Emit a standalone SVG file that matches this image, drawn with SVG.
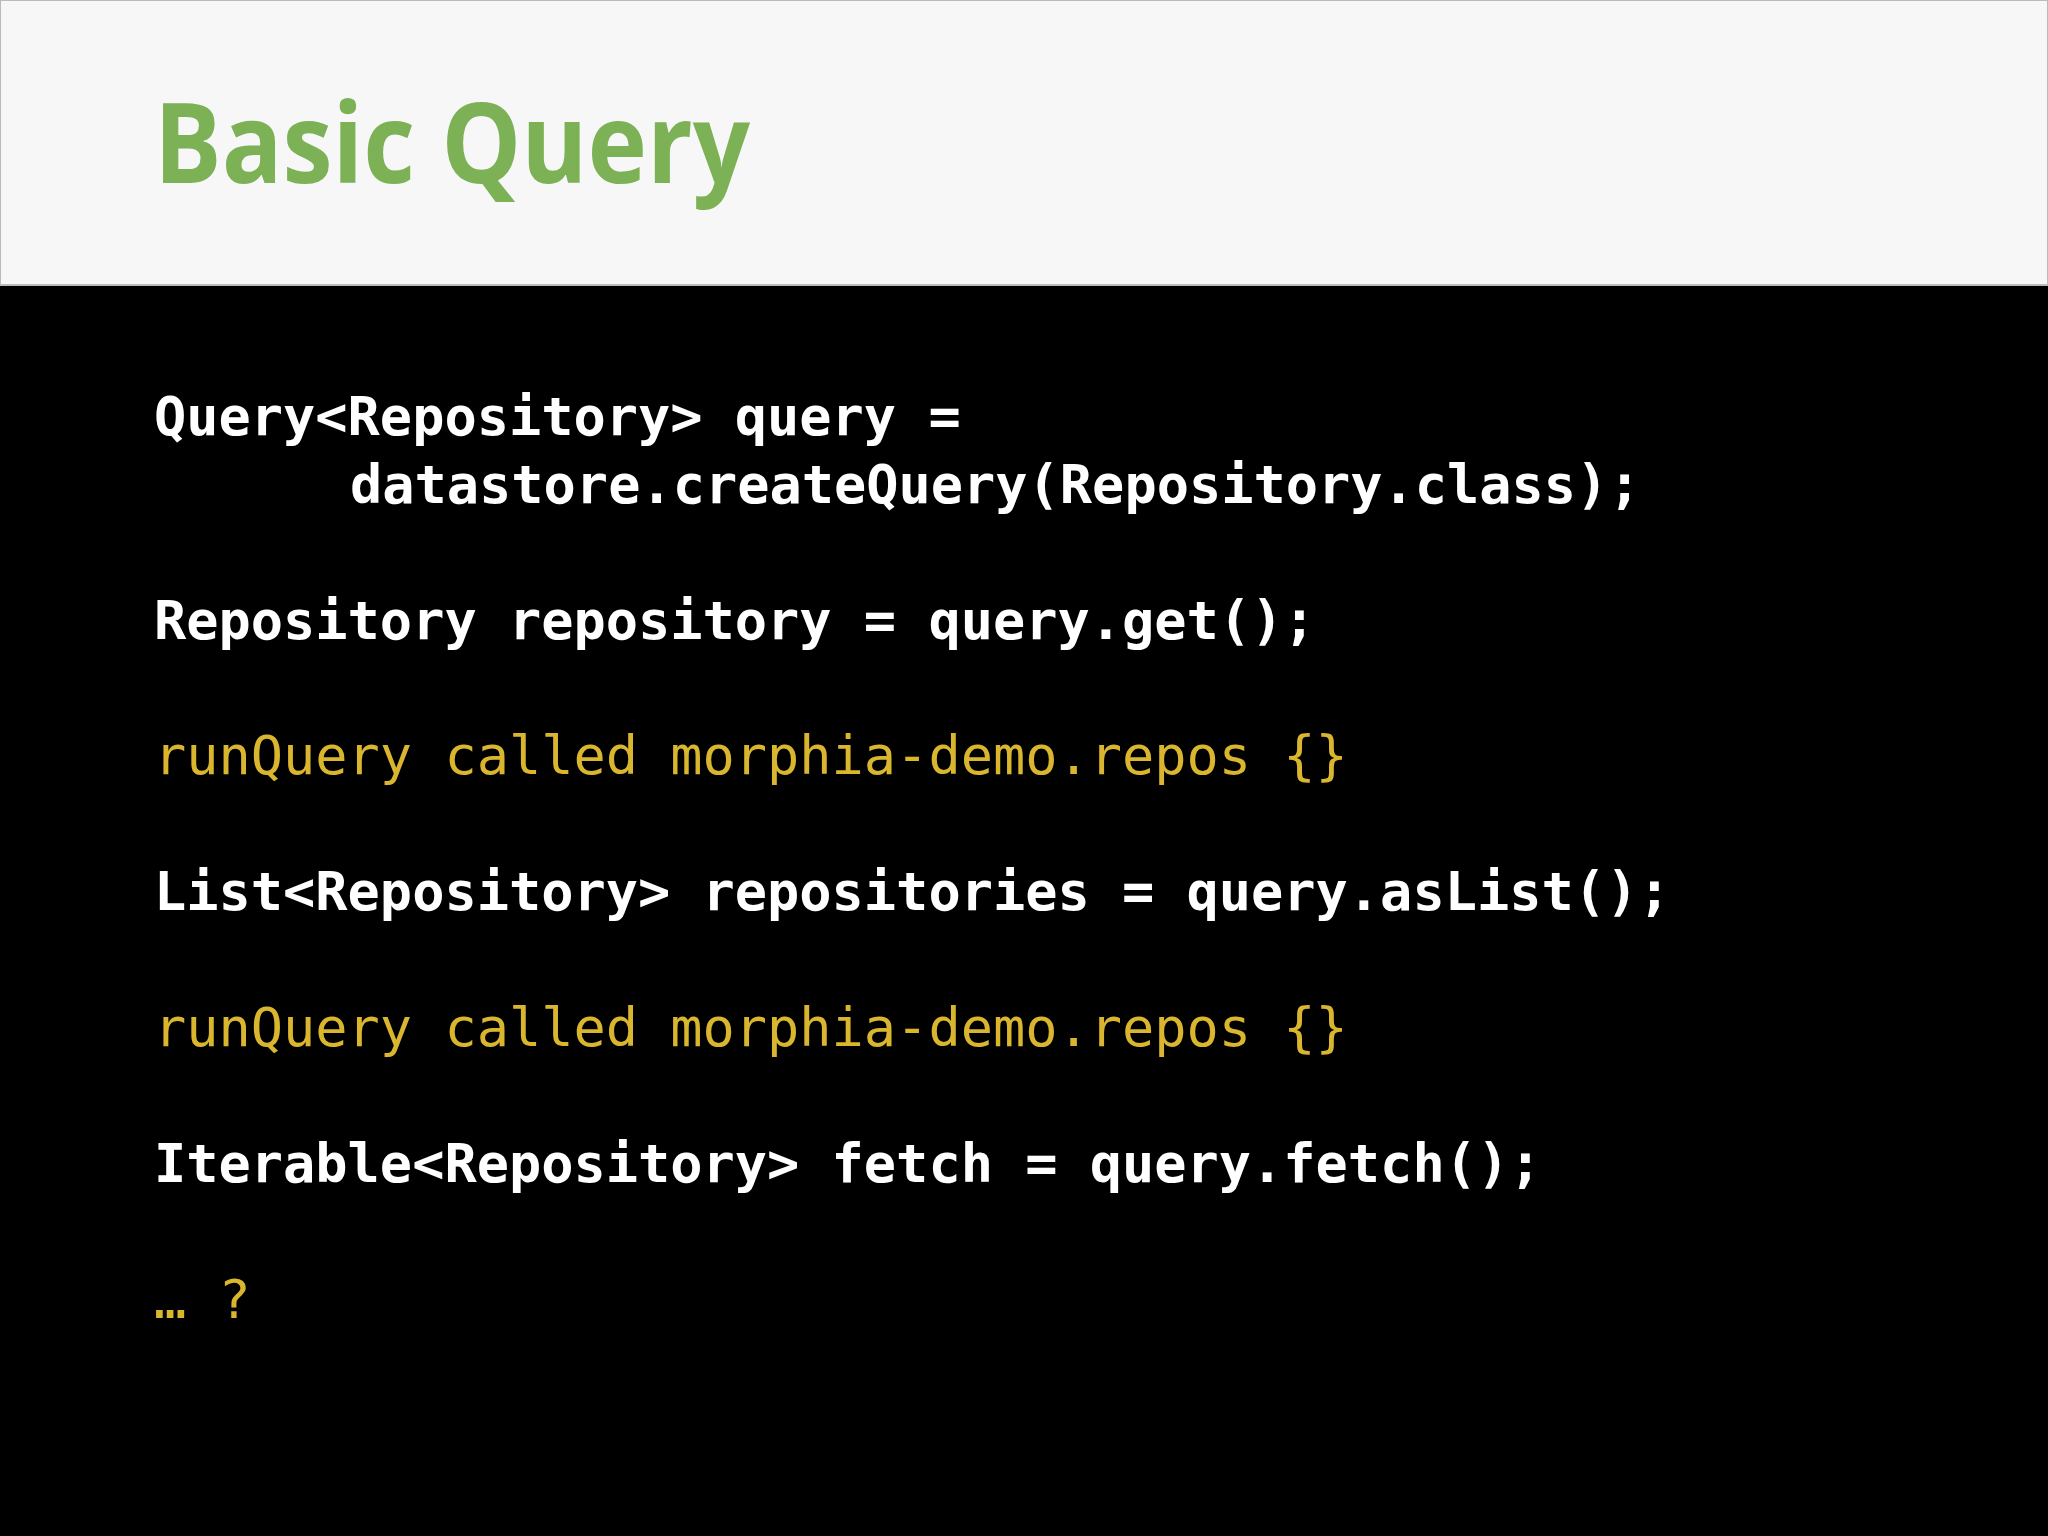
<svg xmlns="http://www.w3.org/2000/svg" width="2048" height="1536" viewBox="0 0 2048 1536">
<style>
.c{font-family:"DejaVu Sans Mono","Liberation Mono",monospace;font-size:53.6px;font-weight:bold;fill:#ffffff;white-space:pre}
.y{fill:#d9b62e;font-weight:normal}
</style>
<rect x="0" y="0" width="2048" height="1536" fill="#000"/>
<rect x="0" y="0" width="2048" height="285" fill="#f7f7f7" stroke="#bbb" stroke-width="2"/>
<text x="154" y="183" font-family="'Open Sans','Noto Sans',sans-serif" font-weight="bold" font-size="112" textLength="596" lengthAdjust="spacingAndGlyphs" fill="#7cb156">Basic Query</text>
<g id="code">
<text class="c" x="154" y="435">Query&lt;Repository&gt; query =</text>
<text class="c" x="350" y="503">datastore.createQuery(Repository.class);</text>
<text class="c" x="154" y="639">Repository repository = query.get();</text>
<text class="c y" x="154" y="774">runQuery called morphia-demo.repos {}</text>
<text class="c" x="154" y="910">List&lt;Repository&gt; repositories = query.asList();</text>
<text class="c y" x="154" y="1046">runQuery called morphia-demo.repos {}</text>
<text class="c" x="154" y="1182">Iterable&lt;Repository&gt; fetch = query.fetch();</text>
<text class="c y" x="154" y="1318">… ?</text>
</g>
</svg>
